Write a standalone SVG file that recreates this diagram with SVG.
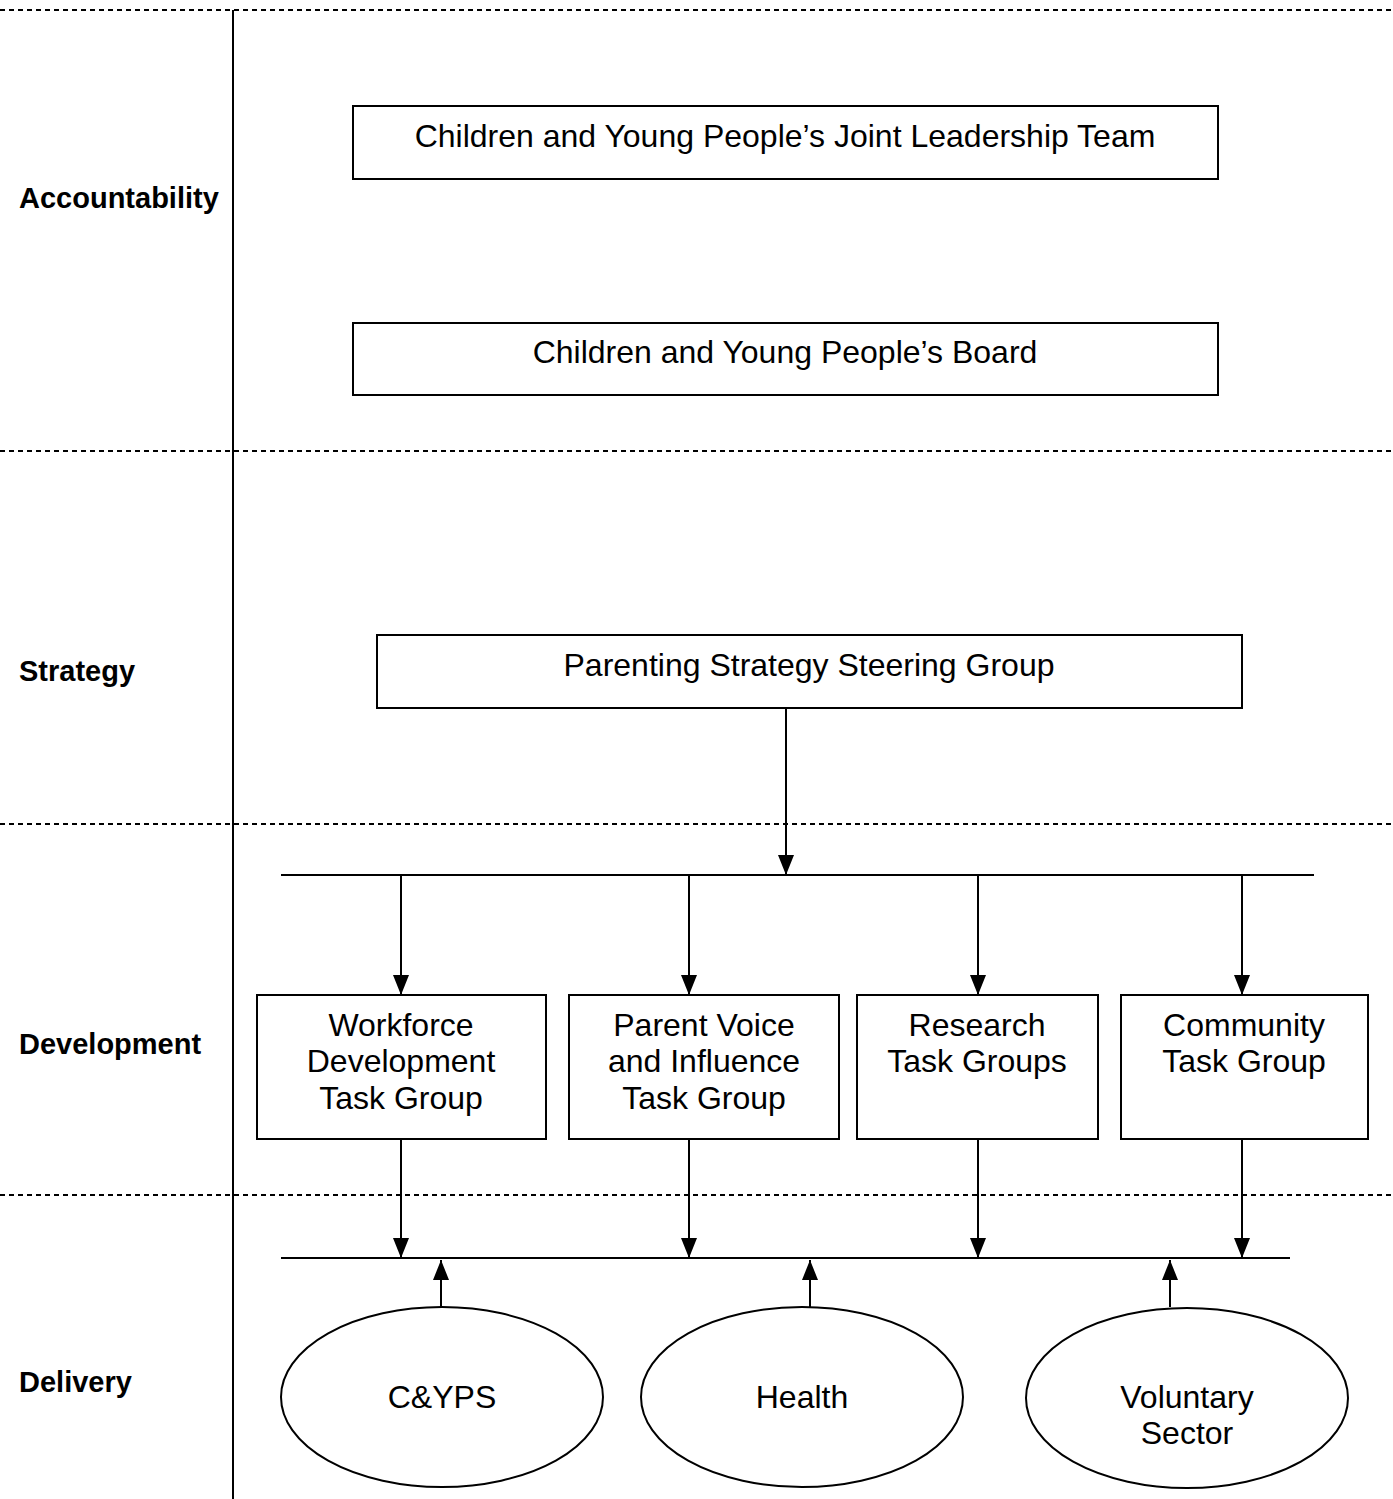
<svg xmlns="http://www.w3.org/2000/svg" width="1393" height="1499" viewBox="0 0 1393 1499">
<style>
.dash{stroke:#000;stroke-width:2;stroke-dasharray:5 4;fill:none}
.ln{stroke:#000;stroke-width:2;fill:none}
.box{fill:#fff;stroke:#000;stroke-width:2}
.t{font-family:"Liberation Sans",Arial,sans-serif;font-size:32px;fill:#000;text-anchor:middle}
.lab{font-family:"Liberation Sans",Arial,sans-serif;font-size:29px;font-weight:bold;fill:#000}
</style>
<defs>
<marker id="dn" markerWidth="16" markerHeight="20" refX="8" refY="20" markerUnits="userSpaceOnUse" viewBox="0 0 16 20">
<path d="M0,0 L16,0 L8,20 Z" fill="#000"/>
</marker>
<marker id="up" markerWidth="16" markerHeight="20" refX="8" refY="0" markerUnits="userSpaceOnUse" viewBox="0 0 16 20">
<path d="M0,20 L16,20 L8,0 Z" fill="#000"/>
</marker>
</defs>
<rect width="1393" height="1499" fill="#fff"/>
<g id="bands">
<line class="dash" x1="0" y1="10" x2="1393" y2="10"/>
<line class="dash" x1="0" y1="451" x2="1393" y2="451"/>
<line class="dash" x1="0" y1="824" x2="1393" y2="824"/>
<line class="dash" x1="0" y1="1195" x2="1393" y2="1195"/>
<line class="ln" x1="233" y1="10" x2="233" y2="1499"/>
<text class="lab" x="19" y="208">Accountability</text>
<text class="lab" x="19" y="681">Strategy</text>
<text class="lab" x="19" y="1054">Development</text>
<text class="lab" x="19" y="1392">Delivery</text>
</g>
<g id="connectors">
<line class="ln" x1="281" y1="875" x2="1314" y2="875"/>
<line class="ln" x1="281" y1="1258" x2="1290" y2="1258"/>
<line class="ln" x1="786" y1="708" x2="786" y2="875" marker-end="url(#dn)"/>
<line class="ln" x1="401" y1="875" x2="401" y2="995" marker-end="url(#dn)"/>
<line class="ln" x1="689" y1="875" x2="689" y2="995" marker-end="url(#dn)"/>
<line class="ln" x1="978" y1="875" x2="978" y2="995" marker-end="url(#dn)"/>
<line class="ln" x1="1242" y1="875" x2="1242" y2="995" marker-end="url(#dn)"/>
<line class="ln" x1="401" y1="1139" x2="401" y2="1258" marker-end="url(#dn)"/>
<line class="ln" x1="689" y1="1139" x2="689" y2="1258" marker-end="url(#dn)"/>
<line class="ln" x1="978" y1="1139" x2="978" y2="1258" marker-end="url(#dn)"/>
<line class="ln" x1="1242" y1="1139" x2="1242" y2="1258" marker-end="url(#dn)"/>
<line class="ln" x1="441" y1="1307" x2="441" y2="1260" marker-end="url(#up)"/>
<line class="ln" x1="810" y1="1307" x2="810" y2="1260" marker-end="url(#up)"/>
<line class="ln" x1="1170" y1="1307" x2="1170" y2="1260" marker-end="url(#up)"/>
</g>
<g id="jlt">
<rect class="box" x="353" y="106" width="865" height="73"/>
<text class="t" x="785" y="147">Children and Young People’s Joint Leadership Team</text>
</g>
<g id="board">
<rect class="box" x="353" y="323" width="865" height="72"/>
<text class="t" x="785" y="363">Children and Young People’s Board</text>
</g>
<g id="steering">
<rect class="box" x="377" y="635" width="865" height="73"/>
<text class="t" x="809" y="676">Parenting Strategy Steering Group</text>
</g>
<g id="workforce">
<rect class="box" x="257" y="995" width="289" height="144"/>
<text class="t" x="401" y="1036">Workforce</text>
<text class="t" x="401" y="1072">Development</text>
<text class="t" x="401" y="1109">Task Group</text>
</g>
<g id="parentvoice">
<rect class="box" x="569" y="995" width="270" height="144"/>
<text class="t" x="704" y="1036">Parent Voice</text>
<text class="t" x="704" y="1072">and Influence</text>
<text class="t" x="704" y="1109">Task Group</text>
</g>
<g id="research">
<rect class="box" x="857" y="995" width="241" height="144"/>
<text class="t" x="977" y="1036">Research</text>
<text class="t" x="977" y="1072">Task Groups</text>
</g>
<g id="community">
<rect class="box" x="1121" y="995" width="247" height="144"/>
<text class="t" x="1244" y="1036">Community</text>
<text class="t" x="1244" y="1072">Task Group</text>
</g>
<g id="cyps">
<ellipse class="box" cx="442" cy="1397" rx="161" ry="90"/>
<text class="t" x="442" y="1408">C&amp;YPS</text>
</g>
<g id="health">
<ellipse class="box" cx="802" cy="1397" rx="161" ry="90"/>
<text class="t" x="802" y="1408">Health</text>
</g>
<g id="voluntary">
<ellipse class="box" cx="1187" cy="1398" rx="161" ry="90"/>
<text class="t" x="1187" y="1408">Voluntary</text>
<text class="t" x="1187" y="1444">Sector</text>
</g>
</svg>
